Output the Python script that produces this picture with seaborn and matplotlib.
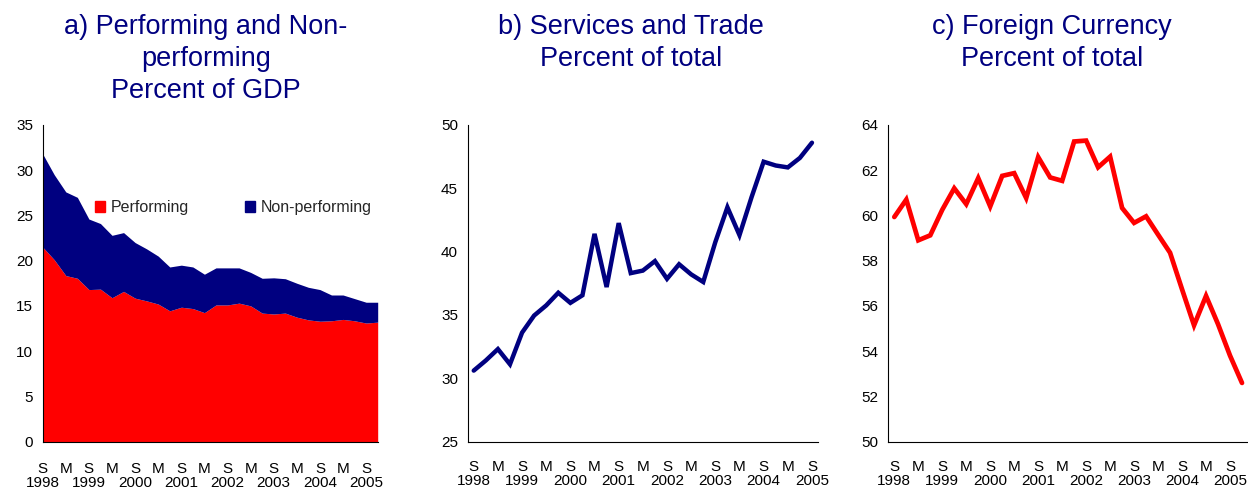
import matplotlib
matplotlib.use("Agg")
import matplotlib.pyplot as plt
from matplotlib.patches import Patch
import numpy as np
import pandas as pd
import seaborn as sns

# Bank credit, quarterly, September 1998 onwards
performing = [21.5, 20.1, 18.35, 18.05, 16.8, 16.85, 15.9, 16.6, 15.85, 15.55,
              15.2, 14.45, 14.85, 14.7, 14.25, 15.1, 15.1, 15.3, 15.0, 14.2,
              14.1, 14.2, 13.75, 13.45, 13.3, 13.35, 13.5, 13.35, 13.1, 13.2]
non_performing = [10.3, 9.4, 9.25, 8.95, 7.8, 7.25, 6.9, 6.5, 6.15, 5.75,
                  5.3, 4.85, 4.65, 4.6, 4.25, 4.1, 4.1, 3.9, 3.7, 3.85,
                  4.0, 3.8, 3.75, 3.6, 3.5, 2.85, 2.7, 2.45, 2.3, 2.2]
services_trade = [30.6, 31.4, 32.3, 31.1, 33.6, 34.95, 35.75, 36.75, 35.95, 36.55,
                  41.4, 37.2, 42.25, 38.3, 38.5, 39.25, 37.85, 39.0, 38.2, 37.6,
                  40.75, 43.5, 41.3, 44.3, 47.1, 46.8, 46.65, 47.4, 48.6]
foreign_currency = [59.93, 60.7, 58.9, 59.12, 60.25, 61.2, 60.5, 61.65, 60.4, 61.75,
                    61.87, 60.77, 62.58, 61.68, 61.53, 63.27, 63.31, 62.13, 62.6, 60.33,
                    59.67, 59.96, 59.15, 58.35, 56.73, 55.14, 56.44, 55.19, 53.8, 52.59]
tick_labels = ["S\n1998", "M", "S\n1999", "M", "S\n2000", "M", "S\n2001", "M",
               "S\n2002", "M", "S\n2003", "M", "S\n2004", "M", "S\n2005"]
titles = ["a) Performing and Non-\nperforming\nPercent of GDP",
          "b) Services and Trade\nPercent of total",
          "c) Foreign Currency\nPercent of total"]

NAVY = "#000080"
RED = "#FF0000"

sns.set_theme(style="white")
plt.rcParams["font.family"] = ["Liberation Sans", "DejaVu Sans"]
plt.rcParams["axes.linewidth"] = 0.8

fig = plt.figure(figsize=(12.48, 4.93), dpi=100)
W, H = 1248, 493


def add_axes(left, right, top=125, bottom=441.5):
    return fig.add_axes([left / W, 1 - bottom / H, (right - left) / W, (bottom - top) / H])


ax_a = add_axes(42.7, 377.7)
ax_b = add_axes(467.7, 818.0)
ax_c = add_axes(888.3, 1248.0)

TICK_FS = 11


def style_axes(ax):
    for side in ("top", "right"):
        ax.spines[side].set_visible(False)
    for side in ("left", "bottom"):
        ax.spines[side].set_color("black")
    ax.tick_params(axis="both", which="both", direction="out", color="black",
                   labelsize=TICK_FS, labelcolor="black", width=0.8)
    ax.tick_params(axis="y", length=4, pad=3)
    ax.set_xlabel("")
    ax.set_ylabel("")


label_pos = np.arange(0, 2 * len(tick_labels), 2)

# a) stacked area
xa = np.arange(len(performing))
ax_a.stackplot(xa, performing, non_performing, colors=[RED, NAVY], linewidth=0)
ax_a.set_xlim(0, len(performing) - 1)
ax_a.set_ylim(0, 35)
ax_a.set_yticks(np.arange(0, 36, 5))
style_axes(ax_a)
ax_a.set_xticks(label_pos)
ax_a.set_xticklabels(tick_labels, linespacing=1.0)
ax_a.tick_params(axis="x", length=4, pad=10.5)
ax_a.legend(handles=[Patch(color=RED, label="Performing"),
                     Patch(color=NAVY, label="Non-performing")],
            loc="center left", bbox_to_anchor=(0.137, 0.738), ncol=2, frameon=False,
            fontsize=11.5, handlelength=0.65, handleheight=0.65, handletextpad=0.35,
            columnspacing=3.5, borderaxespad=0)

# b) and c) lines
df_b = pd.DataFrame({"q": np.arange(len(services_trade)), "v": services_trade})
df_c = pd.DataFrame({"q": np.arange(len(foreign_currency)), "v": foreign_currency})
sns.lineplot(data=df_b, x="q", y="v", ax=ax_b, color=NAVY, linewidth=3.2,
             solid_joinstyle="miter", solid_capstyle="round")
sns.lineplot(data=df_c, x="q", y="v", ax=ax_c, color=RED, linewidth=3.4,
             solid_joinstyle="miter", solid_capstyle="round")

for ax, n, ylim, ystep in ((ax_b, len(services_trade), (25, 50), 5),
                           (ax_c, len(foreign_currency), (50, 64), 2)):
    ax.set_xlim(-0.5, n - 0.5)
    ax.set_ylim(*ylim)
    ax.set_yticks(np.arange(ylim[0], ylim[1] + 0.1, ystep))
    style_axes(ax)
    ax.set_xticks(label_pos)
    ax.set_xticklabels(tick_labels, linespacing=1.0)
    ax.set_xticks(np.arange(-0.5, n, 2), minor=True)
    ax.tick_params(axis="x", which="major", length=0, pad=13.5)
    ax.tick_params(axis="x", which="minor", length=4)

for ax in (ax_b, ax_c):
    for line in ax.get_lines():
        line.set_clip_on(False)

# panel titles
for x, t in zip((205.7, 631.0, 1052.0), titles):
    fig.text(x / W, 1 - 14 / H, t, ha="center", va="top", fontsize=19.5,
             color=NAVY, linespacing=1.3, multialignment="center")

fig.savefig("out.png", dpi=100)
